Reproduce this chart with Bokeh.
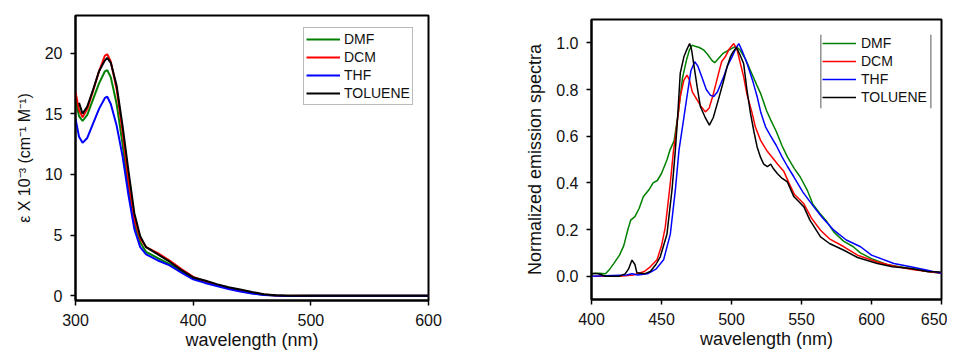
from bokeh.plotting import figure
from bokeh.layouts import row, column
from bokeh.models import (Legend, LegendItem, FixedTicker, Range1d, BoxAnnotation,
                          PrintfTickFormatter)
from bokeh.embed import file_html
from bokeh.resources import INLINE

# ---------------- Absorption data ----------------
abs_x = [300, 303, 306, 310, 315, 320, 325, 327, 330, 335, 340, 345, 350, 355, 360,
         370, 380, 390, 400, 410, 420, 430, 440, 450, 460, 470, 480, 500, 550, 600]
abs_dmf = [16.2, 14.8, 14.4, 14.9, 16.2, 17.5, 18.5, 18.6, 18.0, 15.8, 12.5, 8.8, 5.9, 4.4, 3.6,
           3.1, 2.6, 2.0, 1.45, 1.1, 0.85, 0.6, 0.4, 0.2, 0.08, 0.02, 0.0, 0.0, 0.0, 0.0]
abs_dcm = [16.8, 15.3, 14.7, 15.4, 16.9, 18.5, 19.8, 19.9, 19.3, 17.0, 13.5, 9.5, 6.3, 4.7, 4.0,
           3.5, 2.9, 2.2, 1.55, 1.2, 0.9, 0.65, 0.45, 0.25, 0.1, 0.02, 0.0, 0.0, 0.0, 0.0]
abs_thf = [14.6, 13.1, 12.6, 13.0, 14.2, 15.4, 16.3, 16.4, 15.8, 14.0, 11.5, 8.3, 5.5, 4.0, 3.4,
           2.9, 2.5, 1.9, 1.35, 1.05, 0.8, 0.55, 0.35, 0.18, 0.06, 0.01, -0.02, 0.0, 0.0, 0.0]
abs_tol_x = [303, 306, 310, 315, 320, 325, 327, 330, 335, 340, 345, 350, 355, 360,
             370, 380, 390, 400, 410, 420, 430, 440, 450, 460, 470, 480, 500, 550, 600]
abs_tol = [15.9, 15.0, 15.6, 17.0, 18.5, 19.4, 19.6, 19.2, 17.3, 14.0, 10.3, 6.8, 4.9, 4.0,
           3.4, 2.8, 2.1, 1.5, 1.25, 0.95, 0.7, 0.5, 0.3, 0.12, 0.03, 0.0, 0.0, 0.0, 0.0]

# ---------------- Emission data ----------------
em_dmf_x = [400, 405, 410, 413, 416, 420, 423, 426, 428, 431, 434, 437, 441, 444, 447, 450, 454,
            456, 459, 462, 465, 468, 470, 472, 474, 477, 480, 483, 486, 488, 491, 494, 497, 500,
            503, 506, 510, 514, 518, 521, 525, 528, 532, 536, 540, 545, 549, 554, 558, 563, 568,
            573, 580, 587, 592, 600, 611, 620, 628, 640, 650]
em_dmf = [0.01, 0.012, 0.01, 0.03, 0.055, 0.09, 0.13, 0.2, 0.24, 0.255, 0.29, 0.34, 0.37, 0.40,
          0.41, 0.44, 0.50, 0.54, 0.58, 0.70, 0.85, 0.93, 0.97, 0.99, 0.985, 0.98, 0.97, 0.95,
          0.925, 0.915, 0.935, 0.955, 0.965, 0.975, 0.985, 0.97, 0.93, 0.875, 0.82, 0.78, 0.71,
          0.67, 0.62, 0.56, 0.51, 0.46, 0.426, 0.37, 0.31, 0.27, 0.235, 0.19, 0.15, 0.126, 0.10,
          0.075, 0.05, 0.04, 0.033, 0.02, 0.012]

em_dcm_x = [400, 420, 430, 437.7, 442, 446.8, 450, 452.7, 456.3, 458.6, 460, 463.4, 466, 468.2,
            470, 472, 475, 478, 481.3, 484, 487, 490.8, 493, 495.6, 498, 501.6, 504, 506, 508.7,
            511, 514.7, 517, 520.7, 525, 529, 533, 537.3, 541, 545, 551.7, 557, 563.6, 570,
            580.3, 590, 604.2, 615, 628, 640, 650]
em_dcm = [0.0, 0.0, 0.005, 0.02, 0.04, 0.07, 0.13, 0.21, 0.40, 0.54, 0.60, 0.77, 0.84, 0.862,
          0.84, 0.79, 0.76, 0.73, 0.704, 0.72, 0.78, 0.87, 0.92, 0.94, 0.97, 0.997, 0.97, 0.92,
          0.854, 0.78, 0.70, 0.64, 0.583, 0.54, 0.51, 0.48, 0.45, 0.40, 0.35, 0.31, 0.25, 0.197,
          0.16, 0.126, 0.09, 0.061, 0.045, 0.03, 0.02, 0.012]

em_thf_x = [400, 425, 429, 433, 440, 446, 451.5, 456.3, 459.9, 462.5, 465, 468.2, 471, 473.7,
            476, 479, 482, 485, 487.3, 490, 494.4, 497, 500.4, 503, 505.2, 508, 511.2, 515,
            518.3, 521, 524.3, 528, 532, 536.2, 540, 544.5, 551, 558.8, 565, 573.1, 582, 592.2,
            600, 616, 628, 640, 650]
em_thf = [0.0, 0.005, 0.01, 0.005, 0.01, 0.03, 0.07, 0.18, 0.37, 0.54, 0.64, 0.77, 0.88, 0.919,
          0.90, 0.85, 0.80, 0.775, 0.77, 0.79, 0.854, 0.90, 0.94, 0.975, 0.997, 0.96, 0.91, 0.84,
          0.77, 0.70, 0.64, 0.60, 0.56, 0.51, 0.47, 0.426, 0.36, 0.297, 0.25, 0.197, 0.155,
          0.126, 0.09, 0.054, 0.04, 0.025, 0.012]

em_tol_x = [400, 403, 405, 410, 420, 424, 426.4, 428.9, 431, 432.4, 437.7, 442, 446, 449.1,
            453.9, 457.5, 459.9, 461.5, 463.4, 466, 468, 470.1, 471.5, 473, 475.5, 477.8, 481,
            484.2, 487, 490.8, 494, 497, 499.2, 501, 503.5, 506, 508.7, 511, 513.5, 516, 518.3,
            520.7, 523, 525.6, 528, 530, 532.7, 536, 539.9, 544.6, 548, 551.7, 556, 563.6, 570,
            580.3, 590, 604.2, 615, 628, 640, 649.4]
em_tol = [0.01, 0.012, 0.01, 0.0, 0.0, 0.01, 0.03, 0.069, 0.05, 0.015, 0.01, 0.02, 0.05, 0.083,
          0.18, 0.37, 0.54, 0.68, 0.87, 0.94, 0.97, 0.997, 0.97, 0.91, 0.81, 0.726, 0.683, 0.647,
          0.68, 0.76, 0.83, 0.90, 0.94, 0.96, 0.98, 0.95, 0.91, 0.80, 0.70, 0.62, 0.554, 0.51,
          0.48, 0.469, 0.48, 0.46, 0.44, 0.42, 0.404, 0.34, 0.32, 0.297, 0.24, 0.168, 0.14,
          0.111, 0.08, 0.054, 0.04, 0.033, 0.02, 0.018]

labels = ["DMF", "DCM", "THF", "TOLUENE"]
colors = ["#008000", "#ff0000", "#0000ff", "#000000"]
abs_ticks = [300, 400, 500, 600]
abs_yticks = [0, 5, 10, 15, 20]
em_ticks = [400, 450, 500, 550, 600, 650]
em_yticks = [0.0, 0.2, 0.4, 0.6, 0.8, 1.0]

FONT = "Liberation Sans"


def style(p, xticks, yticks):
    p.outline_line_color = "black"
    p.outline_line_width = 2
    p.background_fill_color = "white"
    p.border_fill_color = "white"
    for ax in (p.xaxis[0], p.yaxis[0]):
        ax.axis_line_width = 2
        ax.axis_line_color = "black"
        ax.major_tick_line_width = 1.5
        ax.major_tick_line_color = "black"
        ax.major_tick_in = 0
        ax.major_tick_out = 5
        ax.minor_tick_line_color = None
        ax.major_label_text_font = FONT
        ax.major_label_text_font_size = "16px"
        ax.major_label_text_color = "#111111"
        ax.axis_label_text_font = FONT
        ax.axis_label_text_font_style = "normal"
        ax.axis_label_text_color = "#111111"
    p.xaxis[0].ticker = FixedTicker(ticks=xticks)
    p.yaxis[0].ticker = FixedTicker(ticks=yticks)
    p.xaxis[0].major_label_standoff = 8
    p.yaxis[0].major_label_standoff = 8
    p.xaxis[0].axis_label_text_font_size = "18px"
    p.xaxis[0].axis_label_standoff = 1


# ---------------- Left: absorption ----------------
p1 = figure(width=477, height=352, output_backend="svg", toolbar_location=None,
            x_range=Range1d(300, 600), y_range=Range1d(-0.4, 23.1),
            min_border_left=75, min_border_right=49, min_border_top=15, min_border_bottom=52)
p1.grid.visible = False
style(p1, abs_ticks, abs_yticks)
p1.xaxis[0].axis_label = "wavelength (nm)"
p1.yaxis[0].axis_label = "ε X 10⁻³ (cm⁻¹ M⁻¹)"
p1.yaxis[0].axis_label_text_font_size = "16px"
p1.yaxis[0].axis_label_standoff = 9

r_abs = []
for xs, ys, c in [(abs_x, abs_dmf, colors[0]), (abs_x, abs_dcm, colors[1]),
                  (abs_x, abs_thf, colors[2]), (abs_tol_x, abs_tol, colors[3])]:
    r_abs.append(p1.line(xs, ys, line_color=c, line_width=2))

leg1 = Legend(items=[LegendItem(label=l, renderers=[r]) for l, r in zip(labels, r_abs)],
              location=(228, 195), padding=2, spacing=0, margin=0,
              glyph_width=34, glyph_height=18, label_height=18, label_standoff=4,
              label_text_font=FONT, label_text_font_size="14px", label_text_color="#111111",
              border_line_color="#777777", border_line_width=1.5,
              background_fill_color="white", background_fill_alpha=1.0)
p1.add_layout(leg1)

# ---------------- Right: emission ----------------
p2 = figure(width=470, height=352, output_backend="svg", toolbar_location=None,
            x_range=Range1d(400, 650), y_range=Range1d(-0.1, 1.1),
            min_border_left=114, min_border_right=6, min_border_top=19, min_border_bottom=53)
p2.grid.visible = False
style(p2, em_ticks, em_yticks)
p2.yaxis[0].formatter = PrintfTickFormatter(format="%.1f")
p2.xaxis[0].axis_label = "wavelength (nm)"
p2.yaxis[0].axis_label = "Normalized emission spectra"
p2.yaxis[0].axis_label_text_font_size = "18px"
p2.yaxis[0].axis_label_standoff = 8

r_em = []
for xs, ys, c in [(em_dmf_x, em_dmf, colors[0]), (em_dcm_x, em_dcm, colors[1]),
                  (em_thf_x, em_thf, colors[2]), (em_tol_x, em_tol, colors[3])]:
    r_em.append(p2.line(xs, ys, line_color=c, line_width=1.5))

leg2 = Legend(items=[LegendItem(label=l, renderers=[r]) for l, r in zip(labels, r_em)],
              location=(229, 191), padding=2, spacing=0, margin=0,
              glyph_width=34, glyph_height=18, label_height=18, label_standoff=5,
              label_text_font=FONT, label_text_font_size="14px", label_text_color="#111111",
              border_line_alpha=0, background_fill_alpha=0)
p2.add_layout(leg2)
# legend side bars (left and right only, as in the original)
p2.add_layout(BoxAnnotation(left=563.3, right=564.3, bottom=0.72, top=1.035,
                            fill_color="#888888", fill_alpha=1, line_alpha=0))
p2.add_layout(BoxAnnotation(left=641.9, right=642.9, bottom=0.72, top=1.035,
                            fill_color="#888888", fill_alpha=1, line_alpha=0))

layout = row(column(p1), column(p2))
open("out.html", "w").write(file_html(layout, INLINE))
